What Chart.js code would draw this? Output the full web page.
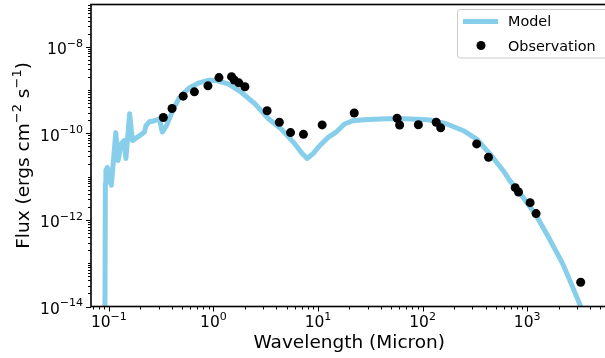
<!DOCTYPE html>
<html>
<head>
<meta charset="utf-8">
<script src="https://cdn.jsdelivr.net/npm/chart.js@4.4.1/dist/chart.umd.min.js"></script>
<style>
    html, body { margin: 0; padding: 0; background: #fff; overflow: hidden; }
    #sed { display: block; }
</style>
</head>
<body>
<canvas id="sed" width="612" height="358"></canvas>
<script>
// SED model (micron, erg cm^-2 s^-1)
const modelWave = [0.0912, 0.0926, 0.0937, 0.0968, 0.1057, 0.1165, 0.1225, 0.1314, 0.1396, 0.1456,
    0.158, 0.168, 0.197, 0.219, 0.2266, 0.245, 0.273, 0.304, 0.325, 0.355,
    0.407, 0.471, 0.586, 0.729, 0.906, 1.056, 1.40, 1.86, 2.51, 3.36,
    4.46, 6.01, 7.05, 7.87, 8.97, 10.2, 12.4, 14.8, 17.9, 21.5,
    27.7, 39.5, 57.3, 88.7, 118, 171, 246, 329, 440, 589,
    680, 910, 1217, 1626, 2178, 2710, 3250, 3625];
const modelFlux = [1e-16, 6.98e-12, 1.39e-11, 1.63e-11, 6.3e-12, 1.04e-10, 2.36e-11, 5.8e-11, 6.8e-11, 2.62e-11,
    2.84e-10, 6.8e-11, 8.85e-11, 1.07e-10, 1.5e-10, 1.86e-10, 1.96e-10, 2.18e-10, 1.07e-10, 1.5e-10,
    3.33e-10, 6.6e-10, 1.12e-9, 1.47e-9, 1.69e-9, 1.67e-9, 1.37e-9, 8.8e-10, 4.75e-10, 2.18e-10,
    1.25e-10, 5.7e-11, 3.41e-11, 2.62e-11, 3.41e-11, 4.94e-11, 7.96e-11, 1.05e-10, 1.64e-10, 1.96e-10,
    2.07e-10, 2.14e-10, 2.21e-10, 2.12e-10, 2.03e-10, 1.64e-10, 1.15e-10, 7.4e-11, 3.36e-11, 1.39e-11,
    8.2e-12, 3.38e-12, 1.28e-12, 3.73e-13, 9.95e-14, 2.88e-14, 1.0e-14, 5.5e-15];

// photometry
const obsWave = [0.332, 0.402, 0.514, 0.658, 0.887, 1.13, 1.49, 1.58, 1.75, 2.0,
    3.26, 4.27, 5.46, 7.26, 10.96, 22.2, 57.1, 60.3, 91.2, 135,
    149, 329, 427, 769, 827, 1067, 1217, 3250];
const obsFlux = [2.33e-10, 3.76e-10, 7.24e-10, 9.1e-10, 1.25e-9, 1.94e-9, 2.04e-9, 1.71e-9, 1.47e-9, 1.19e-9,
    3.33e-10, 1.81e-10, 1.04e-10, 9.5e-11, 1.57e-10, 2.96e-10, 2.24e-10, 1.56e-10, 1.58e-10, 1.81e-10,
    1.34e-10, 5.7e-11, 2.81e-11, 5.56e-12, 4.41e-12, 2.51e-12, 1.4e-12, 3.64e-14];

// axis ranges and labelled decades
const xRange = [0.0675, 5865];
const yRange = [1e-14, 9.48e-8];
const xTickExps = [-1, 0, 1, 2, 3];
const yTickExps = [-14, -12, -10, -8];
const xTitle = 'Wavelength (Micron)';
const yTitleParts = [['Flux (ergs cm', false], ['\u22122', true], [' s', false], ['\u22121', true], [')', false]];
const legendItems = ['Model', 'Observation'];

const FAMILY = '"DejaVu Sans", sans-serif';
const SKY = '#87ceeb';

function minorTicks(lo, hi, skipMajorsEvery) {
    const out = [];
    for (let e = Math.floor(Math.log10(lo)); e <= Math.ceil(Math.log10(hi)); e++) {
        for (let k = 1; k <= 9; k++) {
            if (k === 1 && (skipMajorsEvery === 1 || e % 2 === 0)) continue;
            const v = k * Math.pow(10, e);
            if (v >= lo && v <= hi) out.push(v);
        }
    }
    return out;
}

function expText(e) {
    return e < 0 ? '\u2212' + Math.abs(e) : String(e);
}

// axes frame, log ticks, mathtext-like labels and legend
const sedDecor = {
    id: 'sedDecor',
    afterDraw(chart) {
        const { ctx, chartArea: a, scales: { x, y } } = chart;
        ctx.save();

        // tick marks
        ctx.strokeStyle = '#000';
        ctx.lineWidth = 1;
        ctx.beginPath();
        minorTicks(xRange[0], xRange[1], 1).forEach(v => {
            const px = Math.round(x.getPixelForValue(v)) + 0.5;
            ctx.moveTo(px, a.bottom); ctx.lineTo(px, a.bottom + 3);
        });
        xTickExps.forEach(e => {
            const px = Math.round(x.getPixelForValue(Math.pow(10, e))) + 0.5;
            ctx.moveTo(px, a.bottom); ctx.lineTo(px, a.bottom + 5);
        });
        minorTicks(yRange[0], yRange[1], 2).forEach(v => {
            const py = Math.round(y.getPixelForValue(v)) + 0.5;
            ctx.moveTo(a.left, py); ctx.lineTo(a.left - 3, py);
        });
        yTickExps.forEach(e => {
            const py = Math.round(y.getPixelForValue(Math.pow(10, e))) + 0.5;
            ctx.moveTo(a.left, py); ctx.lineTo(a.left - 5, py);
        });
        ctx.stroke();

        // frame
        ctx.lineWidth = 1.6;
        ctx.strokeRect(a.left, a.top, a.right - a.left, a.bottom - a.top);

        // tick labels: 10 with a raised exponent
        const baseFont = '15.5px ' + FAMILY;
        const supFont = '11px ' + FAMILY;
        ctx.fillStyle = '#000';
        ctx.textBaseline = 'alphabetic';
        ctx.textAlign = 'left';
        xTickExps.forEach(e => {
            const px = x.getPixelForValue(Math.pow(10, e));
            ctx.font = baseFont;
            const wb = ctx.measureText('10').width;
            ctx.font = supFont;
            const ws = ctx.measureText(expText(e)).width;
            const x0 = px - (wb + ws) / 2;
            ctx.font = baseFont;
            ctx.fillText('10', x0, a.bottom + 20.5);
            ctx.font = supFont;
            ctx.fillText(expText(e), x0 + wb, a.bottom + 13);
        });
        yTickExps.forEach(e => {
            const py = y.getPixelForValue(Math.pow(10, e));
            ctx.font = supFont;
            const ws = ctx.measureText(expText(e)).width;
            const xr = a.left - 8;
            ctx.fillText(expText(e), xr - ws, py - 0.2);
            ctx.font = baseFont;
            const wb = ctx.measureText('10').width;
            ctx.fillText('10', xr - ws - wb, py + 7.3);
        });

        // axis titles
        ctx.font = '18.5px ' + FAMILY;
        ctx.textAlign = 'center';
        ctx.fillText(xTitle, (a.left + a.right) / 2, 348);

        ctx.save();
        ctx.translate(28.5, (a.top + a.bottom) / 2);
        ctx.rotate(-Math.PI / 2);
        ctx.textAlign = 'left';
        let total = 0;
        const widths = yTitleParts.map(([t, sup]) => {
            ctx.font = (sup ? '13px ' : '18.5px ') + FAMILY;
            const w = ctx.measureText(t).width;
            total += w;
            return w;
        });
        let cx = -total / 2;
        yTitleParts.forEach(([t, sup], i) => {
            ctx.font = (sup ? '13px ' : '18.5px ') + FAMILY;
            ctx.fillText(t, cx, sup ? -8 : 0);
            cx += widths[i];
        });
        ctx.restore();

        // legend
        const lx = 457.5, ly = 9.5, lw = 152, lh = 48.5, r = 3;
        ctx.beginPath();
        ctx.moveTo(lx + r, ly);
        ctx.lineTo(lx + lw - r, ly);
        ctx.arcTo(lx + lw, ly, lx + lw, ly + r, r);
        ctx.lineTo(lx + lw, ly + lh - r);
        ctx.arcTo(lx + lw, ly + lh, lx + lw - r, ly + lh, r);
        ctx.lineTo(lx + r, ly + lh);
        ctx.arcTo(lx, ly + lh, lx, ly + lh - r, r);
        ctx.lineTo(lx, ly + r);
        ctx.arcTo(lx, ly, lx + r, ly, r);
        ctx.closePath();
        ctx.fillStyle = 'rgba(255,255,255,0.8)';
        ctx.fill();
        ctx.strokeStyle = '#cccccc';
        ctx.lineWidth = 1;
        ctx.stroke();

        ctx.strokeStyle = SKY;
        ctx.lineWidth = 5;
        ctx.beginPath();
        ctx.moveTo(463, 21.5); ctx.lineTo(498, 21.5);
        ctx.stroke();

        ctx.fillStyle = '#000';
        ctx.beginPath();
        ctx.arc(481, 45.5, 4.5, 0, Math.PI * 2);
        ctx.fill();

        ctx.font = '14.4px ' + FAMILY;
        ctx.textAlign = 'left';
        ctx.fillText(legendItems[0], 508, 26);
        ctx.fillText(legendItems[1], 508, 50.5);

        ctx.restore();
    }
};

const canvas = document.getElementById('sed');
new Chart(canvas.getContext('2d'), {
    type: 'scatter',
    data: {
        datasets: [
            {
                label: legendItems[1],
                data: obsWave.map((w, i) => ({ x: w, y: obsFlux[i] })),
                backgroundColor: '#000',
                borderColor: '#000',
                borderWidth: 0,
                pointRadius: 4.5,
                pointHoverRadius: 4.5,
                order: 0
            },
            {
                label: legendItems[0],
                data: modelWave.map((w, i) => ({ x: w, y: modelFlux[i] })),
                showLine: true,
                borderColor: SKY,
                backgroundColor: SKY,
                borderWidth: 5,
                borderJoinStyle: 'round',
                borderCapStyle: 'round',
                pointRadius: 0,
                pointHoverRadius: 0,
                tension: 0,
                fill: false,
                order: 1
            }
        ]
    },
    options: {
        responsive: false,
        animation: false,
        events: [],
        layout: { padding: { top: 3, left: 0, right: 0, bottom: 0 } },
        plugins: { legend: { display: false }, tooltip: { enabled: false } },
        scales: {
            x: {
                type: 'logarithmic',
                min: xRange[0],
                max: xRange[1],
                bounds: 'data',
                grid: { display: false },
                border: { display: false },
                ticks: { display: false },
                afterFit: s => { s.height = 51.5; }
            },
            y: {
                type: 'logarithmic',
                min: yRange[0],
                max: yRange[1],
                bounds: 'data',
                grid: { display: false },
                border: { display: false },
                ticks: { display: false },
                afterFit: s => { s.width = 91; }
            }
        }
    },
    plugins: [sedDecor]
});
</script>
</body>
</html>
